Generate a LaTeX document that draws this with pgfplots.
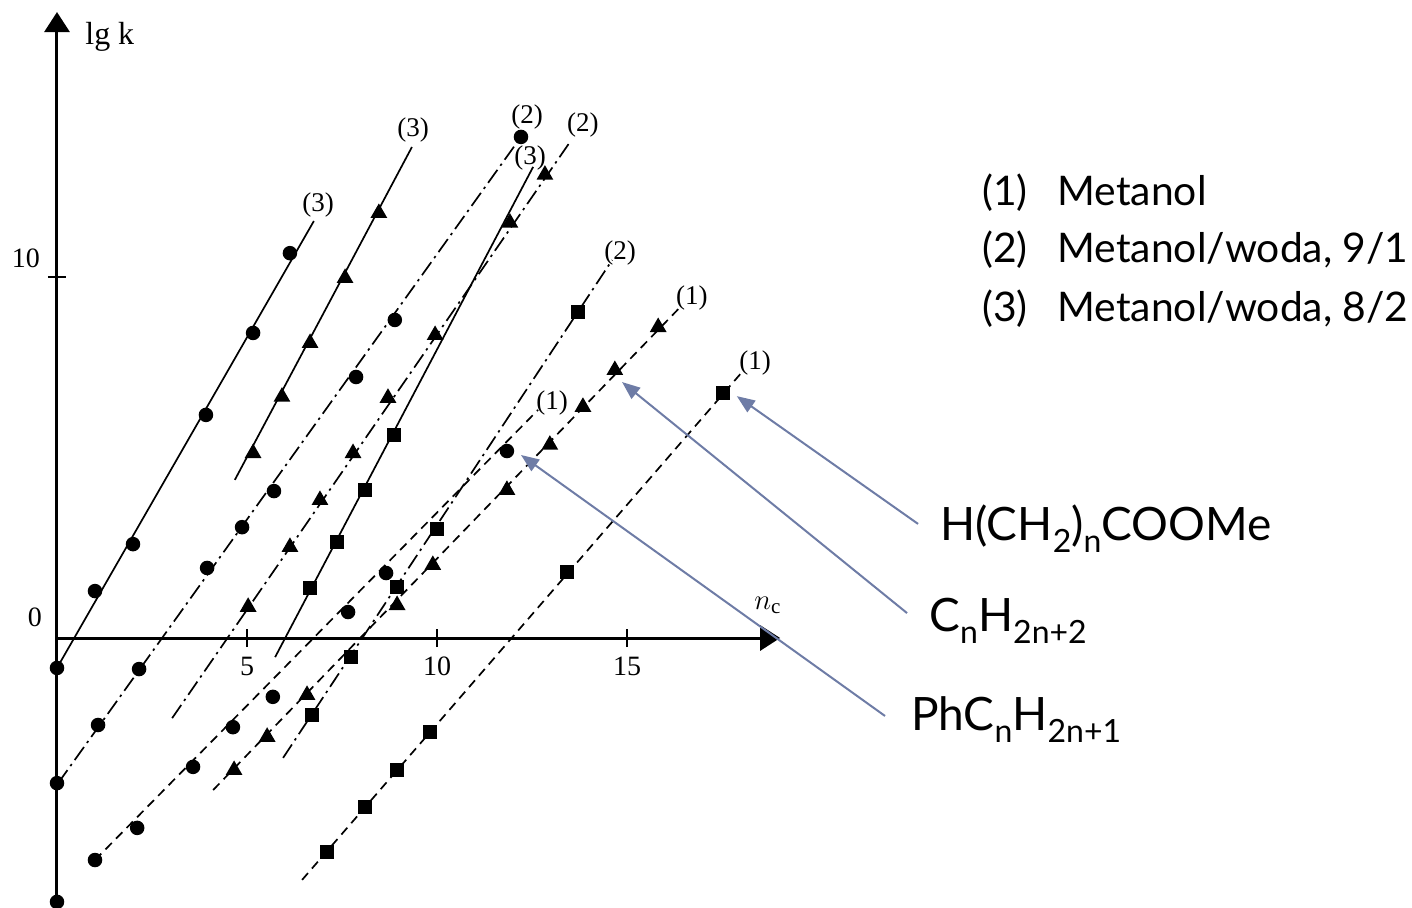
\documentclass[border=0pt]{standalone}
\usepackage{fontspec}
\setmainfont{Liberation Serif}
\newfontfamily\gill{Lato}
\usepackage{pgfplots}
\pgfplotsset{compat=1.18}
\usetikzlibrary{arrows.meta,calc}
\definecolor{arrowblue}{RGB}{110,124,166}
\newcommand\sub[1]{\raisebox{-6pt}{\fontsize{16}{16}\selectfont #1}}
\begin{document}
\begin{tikzpicture}
\begin{axis}[
  x=19pt, y=18.05pt,
  axis lines=middle,
  xmin=0, xmax=19.03, ymin=-7.7, ymax=17.34,
  clip=false,
  axis line style={line width=1.5pt, black, -{Triangle[length=10pt,width=12.5pt]}},
  xtick={5,10,15}, ytick={10},
  tick align=center, major tick length=9pt,
  tick style={line width=1pt, black},
  /pgf/number format/assume math mode=true,
  xticklabel style={anchor=center, yshift=-9.5pt, font=\fontsize{14}{14}\selectfont},
  yticklabel style={anchor=center, xshift=-11pt, yshift=9.5pt, font=\fontsize{14}{14}\selectfont},
  every axis plot/.append style={black, line width=0.85pt},
  s1/.style={dash pattern=on 4.5pt off 3pt},
  s2/.style={dash pattern=on 8pt off 2.5pt on 1.2pt off 2.5pt},
  s3/.style={solid},
  mc/.style={only marks, mark=*, mark size=3.2pt, mark options={solid, fill=black}},
  mt/.style={only marks, mark=triangle*, mark size=4pt, mark options={solid, fill=black}},
  ms/.style={only marks, mark=square*, mark size=3.1pt, mark options={solid, fill=black}},
]
\coordinate (O) at (axis cs:0,0);
% ---- solvent (3), solid
\addplot[s3] coordinates {(0,-0.83) (6.76,11.55)};
\addplot[mc] coordinates {(0,-0.83) (1.0,1.30) (2.0,2.60) (3.92,6.18) (5.16,8.45) (6.13,10.66)};
\addplot[s3] coordinates {(4.68,4.38) (9.34,13.60)};
\addplot[mt] coordinates {(5.16,5.12) (5.92,6.68) (6.66,8.17) (7.58,9.97) (8.47,11.77)};
\addplot[s3] coordinates {(5.74,-0.53) (12.53,13.05)};
\addplot[ms] coordinates {(6.66,1.39) (7.37,2.66) (8.11,4.10) (8.87,5.62)};
% ---- solvent (2), dash-dot
\addplot[s2] coordinates {(0.03,-4.02) (12.21,13.88)};
\addplot[mc] coordinates {(0,-4.02) (1.08,-2.41) (2.16,-0.86) (3.95,1.94) (4.87,3.07) (5.71,4.07) (7.87,7.23) (8.89,8.81) (12.21,13.88)};
\addplot[s2] coordinates {(3.03,-2.22) (13.5,13.74)};
\addplot[mt] coordinates {(5.03,0.86) (6.13,2.52) (6.92,3.82) (7.79,5.12) (8.71,6.65) (9.95,8.39) (11.92,11.50) (12.84,12.83)};
\addplot[s2] coordinates {(5.95,-3.32) (14.61,10.47)};
\addplot[ms] coordinates {(6.71,-2.13) (7.74,-0.53) (8.95,1.41) (10.0,3.02) (13.71,9.03)};
% ---- solvent (1), dashed
\addplot[s1] coordinates {(1.0,-6.15) (12.66,6.32)};
\addplot[mc] coordinates {(0,-7.31) (1.0,-6.15) (2.11,-5.26) (3.58,-3.57) (4.63,-2.47) (5.68,-1.63) (7.66,0.72) (8.66,1.80) (11.84,5.18)};
\addplot[s1] coordinates {(4.11,-4.21) (16.45,9.22)};
\addplot[mt] coordinates {(4.66,-3.66) (5.53,-2.74) (6.58,-1.58) (8.95,0.91) (9.89,2.02) (11.84,4.10) (12.97,5.35) (13.84,6.40) (14.68,7.42) (15.82,8.61)};
\addplot[s1] coordinates {(6.45,-6.70) (18.03,7.37)};
\addplot[ms] coordinates {(7.11,-5.93) (8.11,-4.68) (8.95,-3.66) (9.82,-2.60) (13.42,1.83) (17.53,6.79)};
% ---- line labels
\begin{scope}[every node/.style={font=\fontsize{13.5}{13.5}\selectfont, inner sep=0pt}]
\node at (axis cs:6.87,11.99) {(3)};
\node at (axis cs:9.37,14.07) {(3)};
\node at (axis cs:12.45,13.30) {(3)};
\node at (axis cs:12.37,14.43) {(2)};
\node at (axis cs:13.84,14.21) {(2)};
\node at (axis cs:14.82,10.66) {(2)};
\node at (axis cs:13.03,6.51) {(1)};
\node at (axis cs:16.71,9.42) {(1)};
\node at (axis cs:18.37,7.62) {(1)};
\end{scope}
% axis texts
\node[font=\fontsize{16}{16}\selectfont, inner sep=0pt] at (axis cs:1.39,16.65) {lg k};
\node[font=\fontsize{14}{14}\selectfont, inner sep=0pt] at (axis cs:-0.58,0.58) {0};
\node[font=\fontsize{15}{15}\selectfont, inner sep=0pt] at (axis cs:18.71,0.91) {$n_{\mathrm{c}}$};
% legend text
\begin{scope}[every node/.style={font=\gill\fontsize{20.4}{21}\selectfont, inner sep=0pt, anchor=base west}]
\node at (axis cs:24.34,11.99) {(1)};
\node at (axis cs:26.32,11.99) {Metanol};
\node at (axis cs:24.34,10.39) {(2)};
\node at (axis cs:26.32,10.39) {Metanol/woda, 9/1};
\node at (axis cs:24.34,8.78) {(3)};
\node at (axis cs:26.32,8.78) {Metanol/woda, 8/2};
\end{scope}
\begin{scope}[every node/.style={font=\gill\fontsize{23}{23}\selectfont, inner sep=0pt, anchor=base west}]
\node at (axis cs:23.24,2.71) {H(CH\sub{2})\sub{n}COOMe};
\node at (axis cs:22.95,0.17) {C\sub{n}H\sub{2n+2}};
\node at (axis cs:22.47,-2.55) {PhC\sub{n}H\sub{2n+1}};
\end{scope}
% arrows
\begin{scope}[arrowblue, line width=1pt, -{Triangle[length=9pt,width=7pt]}]
\draw (axis cs:22.66,3.16) -- (axis cs:17.89,6.70);
\draw (axis cs:22.37,0.69) -- (axis cs:14.87,7.09);
\draw (axis cs:21.79,-2.16) -- (axis cs:12.21,5.07);
\end{scope}
\end{axis}
\pgfresetboundingbox
\path[use as bounding box] ($(O)+(-28.5pt,-134.5pt)$) rectangle ($(O)+(677.5pt,319pt)$);
\end{tikzpicture}
\end{document}
